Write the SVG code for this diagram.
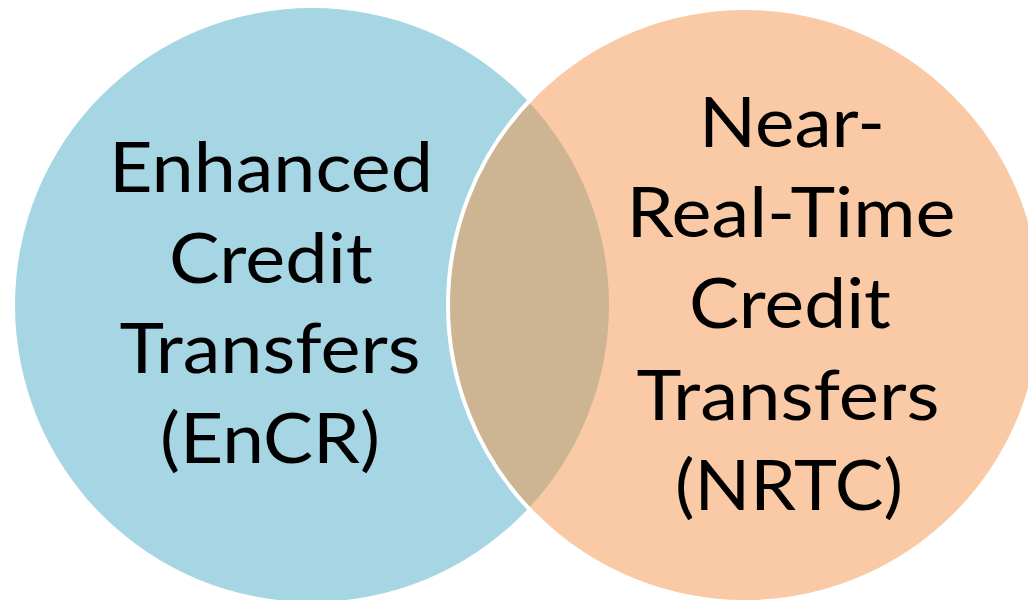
<svg xmlns="http://www.w3.org/2000/svg" width="1028" height="600" viewBox="0 0 1028 600">
  <style>
    .lbl { font-family: Lato, "Liberation Sans", sans-serif; font-size: 70px; fill: #000000; text-anchor: middle; }
  </style>
  <rect x="0" y="0" width="1028" height="600" fill="#FFFFFF"/>
  <g id="encr">
    <circle cx="312" cy="305" r="297" fill="#A6D5E3"/>
  </g>
  <g id="nrtc">
    <circle cx="745" cy="305" r="297" fill="#F9CAA5"/>
  </g>
  <g id="overlap">
    <path d="M 528.5 101.7 A 297 297 0 0 1 528.5 508.3 A 297 297 0 0 1 528.5 101.7 Z" fill="#CDB593"/>
    <circle cx="745" cy="305" r="297" fill="none" stroke="#FFFFFF" stroke-width="4"/>
  </g>
  <g id="encr-label">
    <text class="lbl" x="271" y="192" textLength="324" lengthAdjust="spacingAndGlyphs">Enhanced</text>
    <text class="lbl" x="271" y="283" textLength="204" lengthAdjust="spacingAndGlyphs">Credit</text>
    <text class="lbl" x="270" y="373" textLength="301" lengthAdjust="spacingAndGlyphs">Transfers</text>
    <text class="lbl" x="270" y="463" textLength="220" lengthAdjust="spacingAndGlyphs">(EnCR)</text>
  </g>
  <g id="nrtc-label">
    <text class="lbl" x="792" y="147" textLength="186" lengthAdjust="spacingAndGlyphs">Near-</text>
    <text class="lbl" x="791" y="237" textLength="329" lengthAdjust="spacingAndGlyphs">Real-Time</text>
    <text class="lbl" x="790" y="328" textLength="202" lengthAdjust="spacingAndGlyphs">Credit</text>
    <text class="lbl" x="788" y="420" textLength="303" lengthAdjust="spacingAndGlyphs">Transfers</text>
    <text class="lbl" x="789" y="510" textLength="228" lengthAdjust="spacingAndGlyphs">(NRTC)</text>
  </g>
</svg>
